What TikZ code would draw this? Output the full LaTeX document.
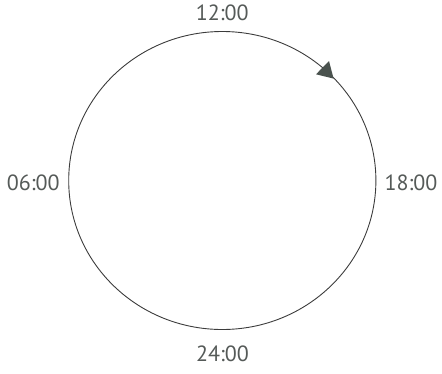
\documentclass[tikz,border=0pt]{standalone}
\usepackage{fontspec}
\setmainfont{PT Sans}
\definecolor{txt}{HTML}{555A58}
\definecolor{ln}{HTML}{3C3C3C}
\definecolor{arr}{HTML}{4A524E}
\begin{document}
\begin{tikzpicture}[x=1pt,y=-1pt,
  lbl/.style={text=txt,font=\fontsize{22}{26}\selectfont,inner sep=0pt}]
\useasboundingbox (0,0) rectangle (442,373);
\draw[ln,line width=0.9pt] (222.3,180.5) ellipse [x radius=153.6, y radius=149];
\fill[arr] (329,61) -- (316,74.3) -- (333.6,78.6) -- cycle;
\node[lbl] (t12) at (222.3,12.8) {12:00};
\node[lbl] (t06) at (33.2,182.8) {06:00};
\node[lbl] (t18) at (411,182.8) {18:00};
\node[lbl] (t24) at (222.5,354) {24:00};
\end{tikzpicture}
\end{document}
